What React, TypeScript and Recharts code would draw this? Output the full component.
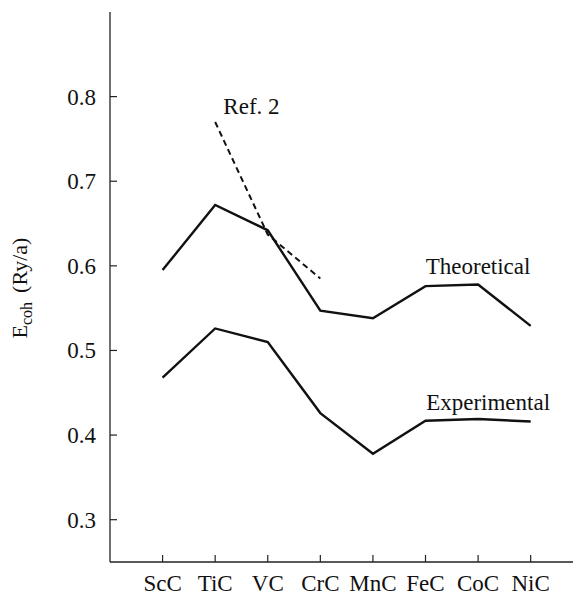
import { LineChart, Line, XAxis, YAxis, ReferenceDot } from 'recharts';

const categories = ['ScC', 'TiC', 'VC', 'CrC', 'MnC', 'FeC', 'CoC', 'NiC'];
const theoretical = [0.595, 0.672, 0.642, 0.547, 0.538, 0.576, 0.578, 0.529];
const experimental = [0.468, 0.526, 0.51, 0.426, 0.378, 0.417, 0.419, 0.416];
const ref2 = [null, 0.77, 0.637, 0.585, null, null, null, null];
const yTicks = [0.3, 0.4, 0.5, 0.6, 0.7, 0.8];
const xTicks = categories.map((_, i) => i + 1);

const data = categories.map((name, i) => ({
  idx: i + 1,
  name,
  theoretical: theoretical[i],
  experimental: experimental[i],
  ref2: ref2[i],
}));

const FONT = "'Liberation Serif', 'DejaVu Serif', serif";
const INK = '#111';
const FRAME = '#222';
const TICK = 7;
const FS = 23;
const textStyle = { fontFamily: FONT };

const LeftTick = ({ x, y, payload }: any) => (
  <g>
    <line x1={x} x2={x + TICK} y1={y} y2={y} stroke={FRAME} strokeWidth={1.2} />
    <text x={x - 14} y={y} dy={8} textAnchor="end" fontSize={FS} style={textStyle} fill={INK}>
      {Number(payload.value).toFixed(1)}
    </text>
  </g>
);

const RightTick = ({ x, y }: any) => (
  <line x1={x} x2={x - TICK} y1={y} y2={y} stroke={FRAME} strokeWidth={1.2} />
);

const BottomTick = ({ x, y, payload }: any) => (
  <g>
    <line x1={x} x2={x} y1={y} y2={y - TICK} stroke={FRAME} strokeWidth={1.2} />
    <text x={x} y={y + 29} textAnchor="middle" fontSize={FS} style={textStyle} fill={INK}>
      {categories[payload.value - 1]}
    </text>
  </g>
);

const TopTick = ({ x, y }: any) => (
  <line x1={x} x2={x} y1={y} y2={y + TICK} stroke={FRAME} strokeWidth={1.2} />
);

const YTitle = () => (
  <text
    x={19}
    y={280}
    transform="rotate(-90, 19, 280)"
    textAnchor="middle"
    fontSize={22}
    style={textStyle}
    fill={INK}
  >
    <tspan>E</tspan>
    <tspan fontSize={16} dy={5}>coh</tspan>
    <tspan dy={-5} dx={9}>(Ry/a)</tspan>
  </text>
);

const Note = ({ viewBox, text }: any) => {
  const cx = viewBox.x + viewBox.width / 2;
  const cy = viewBox.y + viewBox.height / 2;
  return (
    <text x={cx} y={cy} dy={8} textAnchor="middle" fontSize={FS} style={textStyle} fill={INK}>
      {text}
    </text>
  );
};

export default function App() {
  return (
    <LineChart
      width={573}
      height={588}
      data={data}
      margin={{ top: 4, right: 3, bottom: 0, left: 0 }}
    >
      <XAxis
        xAxisId="bottom"
        type="number"
        dataKey="idx"
        domain={[0, 8.9]}
        ticks={xTicks}
        allowDataOverflow
        height={34}
        tickSize={0}
        tickMargin={0}
        tick={<BottomTick />}
        axisLine={{ stroke: FRAME, strokeWidth: 1.3 }}
        tickLine={false}
      />
      <XAxis
        xAxisId="top"
        orientation="top"
        type="number"
        dataKey="idx"
        domain={[0, 8.9]}
        ticks={xTicks}
        allowDataOverflow
        height={0}
        tickSize={0}
        tickMargin={0}
        tick={<TopTick />}
        axisLine={{ stroke: FRAME, strokeWidth: 1.3 }}
        tickLine={false}
      />
      <YAxis
        yAxisId="left"
        type="number"
        domain={[0.25, 0.9]}
        ticks={yTicks}
        allowDataOverflow
        width={102}
        tickSize={0}
        tickMargin={0}
        tick={<LeftTick />}
        axisLine={{ stroke: FRAME, strokeWidth: 1.3 }}
        tickLine={false}
        label={{ content: () => <YTitle /> }}
      />
      <YAxis
        yAxisId="right"
        orientation="right"
        type="number"
        domain={[0.25, 0.9]}
        ticks={yTicks}
        allowDataOverflow
        width={0}
        tickSize={0}
        tickMargin={0}
        tick={<RightTick />}
        axisLine={{ stroke: FRAME, strokeWidth: 1.3 }}
        tickLine={false}
      />
      <Line
        xAxisId="bottom"
        yAxisId="left"
        dataKey="theoretical"
        stroke={INK}
        strokeWidth={2.4}
        dot={false}
        isAnimationActive={false}
      />
      <Line
        xAxisId="bottom"
        yAxisId="left"
        dataKey="experimental"
        stroke={INK}
        strokeWidth={2.4}
        dot={false}
        isAnimationActive={false}
      />
      <Line
        xAxisId="bottom"
        yAxisId="left"
        dataKey="ref2"
        stroke={INK}
        strokeWidth={2}
        strokeDasharray="6 4"
        dot={false}
        isAnimationActive={false}
      />
      <ReferenceDot xAxisId="bottom" yAxisId="left" x={2.69} y={0.789} r={0} stroke="none" label={{ content: (p: any) => <Note {...p} text="Ref. 2" /> }} />
      <ReferenceDot xAxisId="bottom" yAxisId="left" x={7} y={0.6} r={0} stroke="none" label={{ content: (p: any) => <Note {...p} text="Theoretical" /> }} />
      <ReferenceDot xAxisId="bottom" yAxisId="left" x={7.19} y={0.439} r={0} stroke="none" label={{ content: (p: any) => <Note {...p} text="Experimental" /> }} />
    </LineChart>
  );
}
